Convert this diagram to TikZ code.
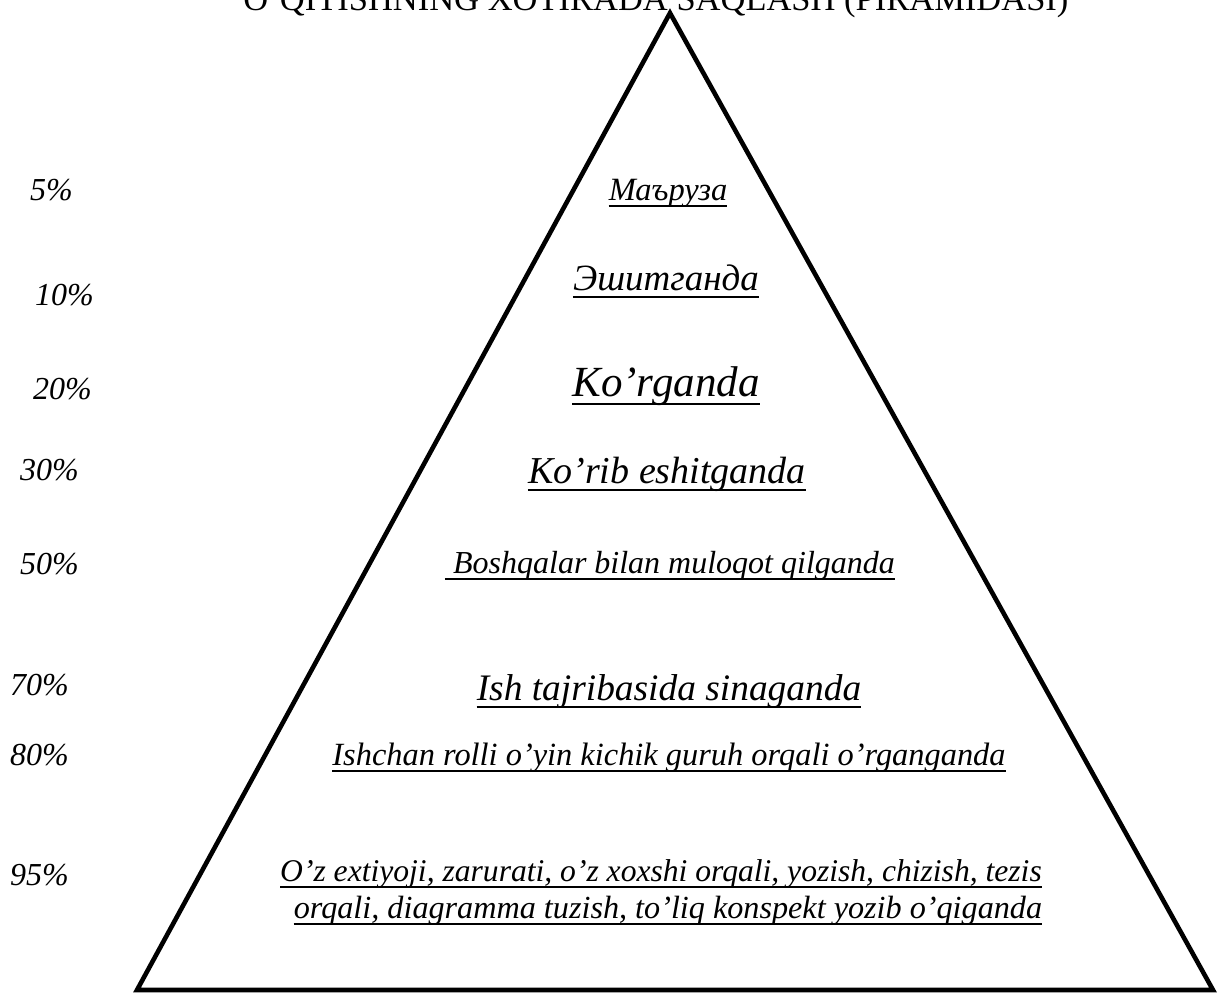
\documentclass[tikz,border=0pt]{standalone}
\usepackage{fontspec}
\setmainfont{Liberation Serif}
\begin{document}
\begin{tikzpicture}[x=1pt,y=-1pt,
  lbl/.style={anchor=base,inner sep=0pt,font=\itshape},
  ulline/.style={draw=black,line width=1.9pt},
  pct/.style={anchor=base west,inner sep=0pt,font=\itshape\fontsize{32}{36}\selectfont},
  tri/.style={draw=black,line width=4.6pt,line join=miter}]
\useasboundingbox (0,0) rectangle (1218,994);
\node[anchor=base,inner sep=0pt,font=\fontsize{34.5}{38}\selectfont] (title) at (656,10) {O’QITISHNING XOTIRADA SAQLASH (PIRAMIDASI)};
\coordinate (apex) at (670,13);
\coordinate (bl) at (137,990);
\coordinate (br) at (1213,990);
\draw[tri] (apex) -- (br) -- (bl) -- cycle;
% labels
\node[lbl,font=\itshape\fontsize{32.5}{36}\selectfont] (t1) at (668,200) {Маъруза};
\node[lbl,font=\itshape\fontsize{37}{41}\selectfont] (t2) at (666,290) {Эшитганда};
\node[lbl,font=\itshape\fontsize{43}{47}\selectfont] (t3) at (666,396) {Ko’rganda};
\node[lbl,font=\itshape\fontsize{38}{42}\selectfont] (t4) at (667,483) {Ko’rib eshitganda};
\node[lbl,font=\itshape\fontsize{32}{36}\selectfont] (t5) at (670,573) {\ Boshqalar bilan muloqot qilganda};
\node[lbl,font=\itshape\fontsize{37.4}{41}\selectfont] (t6) at (669,700) {Ish tajribasida sinaganda};
\node[lbl,font=\itshape\fontsize{32.4}{36}\selectfont] (t7) at (669,765) {Ishchan rolli o’yin kichik guruh orqali o’rganganda};
\node[lbl,font=\itshape\fontsize{31.6}{36}\selectfont] (t8a) at (661,881) {O’z extiyoji, zarurati, o’z xoxshi orqali, yozish, chizish, tezis};
\node[lbl,font=\itshape\fontsize{32.2}{36}\selectfont] (t8b) at (668,918) {orqali, diagramma tuzish, to’liq konspekt yozib o’qiganda};
% underlines
\foreach \n/\d in {t1/6,t2/7,t3/8,t4/7,t5/6,t6/7,t7/6,t8a/6,t8b/6}{
  \draw[ulline] ([yshift=-\d pt]\n.base west) -- ([yshift=-\d pt]\n.base east);
}
% percentages
\node[pct] (p1) at (30,200) {5\%};
\node[pct] (p2) at (35,305) {10\%};
\node[pct] (p3) at (33,399) {20\%};
\node[pct] (p4) at (20,480) {30\%};
\node[pct] (p5) at (20,574) {50\%};
\node[pct] (p6) at (10,695) {70\%};
\node[pct] (p7) at (10,765) {80\%};
\node[pct] (p8) at (10,885) {95\%};
\end{tikzpicture}
\end{document}
